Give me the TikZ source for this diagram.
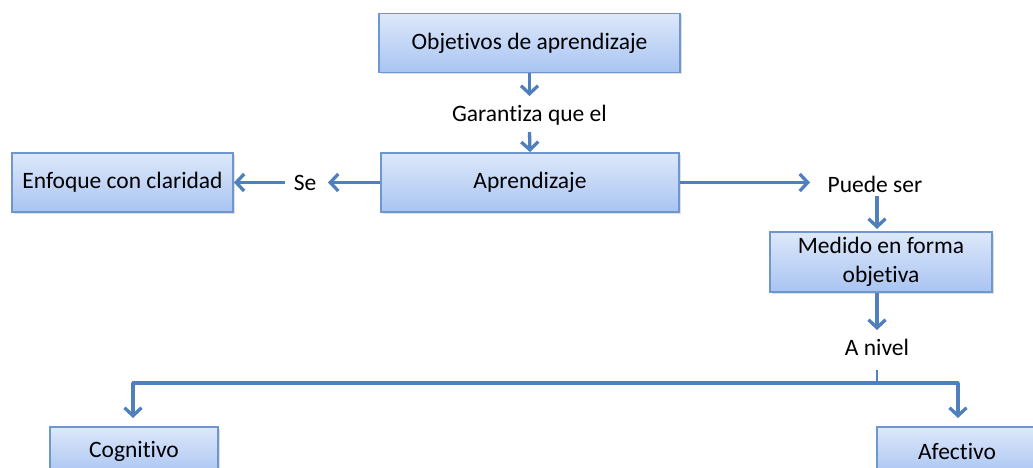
\documentclass[tikz,border=0pt]{standalone}
\usepackage{fontspec}
\setmainfont{Carlito}[Ligatures={NoCommon}]
\usetikzlibrary{arrows.meta,shadows}
\definecolor{boxtop}{HTML}{DDE8FA}
\definecolor{boxbot}{HTML}{A9C4F2}
\definecolor{boxline}{HTML}{6E97CF}
\definecolor{arr}{HTML}{4F7FBC}
\begin{document}
\begin{tikzpicture}[x=1pt,y=-1pt,
  box/.style={draw=boxline,line width=1.8pt,top color=boxtop,bottom color=boxbot,
    minimum height=59pt,align=center,font=\fontsize{23.5}{28}\selectfont,
    inner sep=0pt,drop shadow={shadow xshift=1.5pt,shadow yshift=-1.5pt,opacity=0.25}},
  lbl/.style={font=\fontsize{23.5}{28}\selectfont,inner sep=1pt},
  con/.style={draw=arr,line width=3.3pt,-{Straight Barb[length=8pt,width=17pt,line width=3.3pt]}},
  lin/.style={draw=arr,line width=3.3pt}]
\useasboundingbox (0,0) rectangle (1033,467);
\clip (0,0) rectangle (1033,467);
\node[box,minimum width=301pt] (obj) at (529.5,43) {Objetivos de aprendizaje};
\node[lbl] (gar) at (529.5,115) {Garantiza que el};
\node[box,minimum width=298pt] (apr) at (530,182.5) {Aprendizaje};
\node[box,minimum width=221pt] (enf) at (122.5,182.5) {Enfoque con claridad};
\node[lbl] (se) at (305,183) {Se};
\node[lbl] (pue) at (875,184) {Puede ser};
\node[box,minimum width=222pt,minimum height=60pt,font=\fontsize{23.5}{29}\selectfont] (med) at (881,262) {Medido en forma\\objetiva};
\node[lbl] (niv) at (877,347) {A nivel};
\node[box,minimum width=168pt,minimum height=48pt] (cog) at (134,451) {Cognitivo};
\node[box,minimum width=160pt,minimum height=48pt] (afe) at (957,451) {Afectivo};
\coordinate (tick) at (877,370);
\coordinate (hub) at (877,383);
\coordinate (cl) at (133,383);
\coordinate (cr) at (958,383);
\draw[con] (obj.south) -- (529.5,96);
\draw[con] (529.5,132) -- (apr.north);
\draw[con] (apr.west) -- (328,182.5);
\draw[con] (285,182.5) -- (enf.east);
\draw[con] (apr.east) -- (810,182.5);
\draw[con] (877,196) -- (877,229);
\draw[con] (877,293) -- (877,330);
\draw[lin,line width=2.5pt] (tick) -- (hub);
\draw[lin,line cap=round] (cl) -- (cr);
\draw[con] (cl) -- (133,418);
\draw[con] (cr) -- (958,418);
\end{tikzpicture}
\end{document}
